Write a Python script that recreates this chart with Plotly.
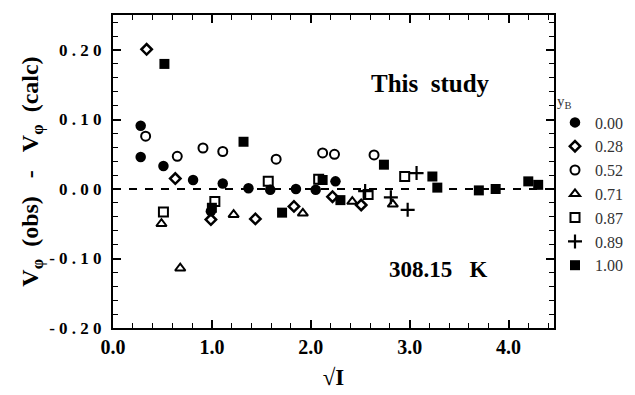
import plotly.graph_objects as go

# ---- data ----
x_000 = [0.28, 0.28, 0.51, 0.81, 0.99, 1.11, 1.37, 1.59, 1.85, 2.05, 2.25]
y_000 = [0.091, 0.046, 0.033, 0.013, -0.032, 0.008, 0.001, -0.001, 0.000, -0.001, 0.011]

x_028 = [0.34, 0.63, 0.99, 1.44, 1.83, 2.22, 2.51]
y_028 = [0.201, 0.015, -0.044, -0.043, -0.025, -0.011, -0.023]

x_052 = [0.33, 0.65, 0.91, 1.11, 1.65, 2.12, 2.24, 2.64]
y_052 = [0.076, 0.047, 0.059, 0.054, 0.043, 0.052, 0.050, 0.049]

x_071 = [0.49, 0.68, 1.22, 1.92, 2.42, 2.83]
y_071 = [-0.050, -0.114, -0.037, -0.035, -0.018, -0.022]

x_087 = [0.51, 1.03, 1.57, 2.08, 2.58, 2.95]
y_087 = [-0.033, -0.018, 0.011, 0.014, -0.008, 0.018]

x_089 = [2.55, 2.81, 2.98, 3.07]
y_089 = [-0.003, -0.012, -0.030, 0.023]

x_100 = [0.52, 1.00, 1.32, 1.71, 2.12, 2.30, 2.74, 3.23, 3.28, 3.70, 3.87, 4.20, 4.30]
y_100 = [0.180, -0.027, 0.068, -0.034, 0.013, -0.016, 0.035, 0.018, 0.002, -0.002, 0.000, 0.011, 0.006]

legend_names = ["0.00", "0.28", "0.52", "0.71", "0.87", "0.89", "1.00"]
x_ticks = [0.0, 1.0, 2.0, 3.0, 4.0]
x_ticklabels = ["0.0", "1.0", "2.0", "3.0", "4.0"]
y_ticks = [-0.2, -0.1, 0.0, 0.1, 0.2]
y_ticklabels = ["- 0 . 2 0", "- 0 . 1 0", "0 . 0 0", "0 . 1 0", "0 . 2 0"]

series = [
    (x_000, y_000, "circle", 10.5, 0),
    (x_028, y_028, "diamond-open", 8, 2.5),
    (x_052, y_052, "circle-open", 9, 2),
    (x_071, y_071, "triangle-up-open", 9, 2),
    (x_087, y_087, "square-open", 9, 2),
    (x_089, y_089, "cross-thin-open", 10, 2.2),
    (x_100, y_100, "square", 10, 0),
]

fig = go.Figure()
for (xs, ys, sym, sz, lw), name in zip(series, legend_names):
    fig.add_trace(go.Scatter(
        x=xs, y=ys, mode="markers", name=name,
        marker=dict(symbol=sym, size=sz, color="black",
                    line=dict(color="black", width=lw)),
    ))

fig.add_shape(type="line", xref="x", yref="y", x0=0, x1=4.46, y0=0, y1=0,
              line=dict(color="black", width=2, dash="8px,8px"), layer="below")

serif = "Liberation Serif"
fig.add_annotation(xref="paper", yref="paper", x=(430 - 113) / 441, y=1 - (84 - 15) / 313,
                   xanchor="center", yanchor="middle",
                   text="<b>This  study</b>", showarrow=False,
                   font=dict(family=serif, size=25, color="black"))
fig.add_annotation(xref="paper", yref="paper", x=(438 - 113) / 441, y=1 - (269 - 15) / 313,
                   xanchor="center", yanchor="middle",
                   text="<b>308.15   K</b>", showarrow=False,
                   font=dict(family=serif, size=23, color="black"))

axis_common = dict(
    showline=True, linecolor="black", linewidth=2, mirror="ticks",
    ticks="inside", ticklen=8, tickwidth=1.5, tickcolor="black",
    showgrid=False, zeroline=False,
)

fig.update_xaxes(
    range=[0, 4.46], tickvals=x_ticks, ticktext=x_ticklabels,
    tickfont=dict(family=serif, size=20, color="black", weight="bold"),
    minor=dict(ticks="inside", ticklen=5, tickwidth=1, tickcolor="black", dtick=0.2),
    title=dict(text="<b>√I</b>", font=dict(family=serif, size=23, color="black"), standoff=12),
    **axis_common,
)
fig.update_yaxes(
    range=[-0.2, 0.2504], tickvals=y_ticks, ticktext=y_ticklabels,
    tickfont=dict(family=serif, size=17, color="black", weight="bold"),
    minor=dict(ticks="inside", ticklen=5, tickwidth=1, tickcolor="black", dtick=0.02),
    title=dict(text="<b>V<sub>φ</sub>  (obs)   -   V<sub>φ</sub>  (calc)</b>",
               font=dict(family=serif, size=24, color="black"), standoff=4),
    ticklabelstandoff=6,
    **axis_common,
)

fig.update_layout(
    width=635, height=395,
    margin=dict(l=113, r=81, t=15, b=67, autoexpand=False),
    paper_bgcolor="white", plot_bgcolor="white",
    showlegend=True,
    legend=dict(
        xref="container", yref="container",
        x=555 / 635, xanchor="left", y=1 - 86 / 395, yanchor="top",
        title=dict(text="y<sub>B</sub>", font=dict(family=serif, size=15, color="#333")),
        font=dict(family=serif, size=16, color="#333"),
        bgcolor="rgba(0,0,0,0)", borderwidth=0, tracegroupgap=0,
    ),
)

fig.write_html("out.html")
